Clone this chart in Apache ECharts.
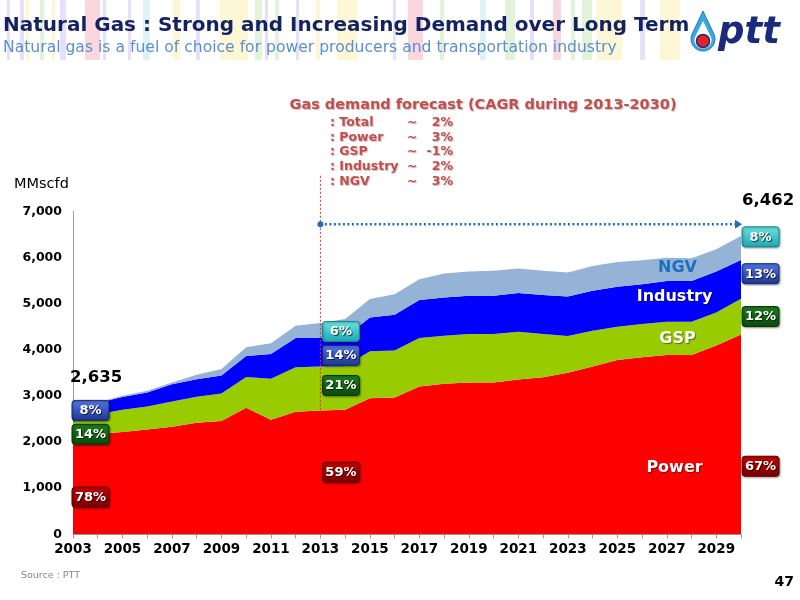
<!DOCTYPE html>
<html><head><meta charset="utf-8">
<script src="https://cdn.jsdelivr.net/npm/echarts@6/dist/echarts.min.js"></script>
<style>html,body{margin:0;padding:0;background:#fff}#c{width:800px;height:600px}</style>
</head><body><div id="c"></div>
<script>
const years = ['2003','2004','2005','2006','2007','2008','2009','2010','2011','2012','2013','2014','2015','2016','2017','2018','2019','2020','2021','2022','2023','2024','2025','2026','2027','2028','2029','2030'];
const power    = [2100,2180,2216,2270,2330,2420,2454,2743,2484,2657,2685,2700,2950,2965,3203,3261,3289,3289,3354,3404,3499,3635,3780,3836,3888,3888,4089,4330];
const gsp      = [340,420,484,500,550,560,596,667,885,963,950,942,1016,1016,1052,1044,1052,1052,1037,937,799,778,719,721,719,719,719,775];
const industry = [195,250,275,305,370,380,390,455,540,635,620,628,734,777,821,827,827,827,836,843,856,864,864,864,885,885,885,840];
const ngv      = [0,10,25,35,40,100,140,187,229,265,324,395,397,447,453,518,525,541,531,525,518,539,540,518,504,490,484,517];
const yTicks = [0,1000,2000,3000,4000,5000,6000,7000];
const startShares = ['8%','14%','78%'];      // Industry, GSP, Power in 2003
const midShares   = ['6%','14%','21%','59%']; // NGV, Industry, GSP, Power in 2013
const endShares   = ['8%','13%','12%','67%']; // NGV, Industry, GSP, Power in 2030
const startTotal = '2,635';
const endTotal = '6,462';
const cagrTitle = 'Gas demand forecast (CAGR during 2013-2030)';
const cagrNames = [': Total', ': Power', ': GSP', ': Industry', ': NGV'];
const cagrValues = ['2%', '3%', '-1%', '2%', '3%'];

const chart = echarts.init(document.getElementById('c'));
const FONT = "'DejaVu Sans', Verdana, sans-serif";

function areaSeries(name, data, color) {
  return {
    name, type: 'line', stack: 'total', data, symbol: 'none', smooth: false,
    lineStyle: { width: 0 }, areaStyle: { color, opacity: 1 }, itemStyle: { color },
    emphasis: { disabled: true }, silent: true
  };
}

chart.setOption({
  animation: false,
  backgroundColor: '#fff',
  grid: { left: 73, right: 59, top: 211.3, bottom: 65.7 },
  xAxis: {
    type: 'category', data: years, boundaryGap: false,
    axisLine: { lineStyle: { color: '#999' } },
    axisTick: { show: true, interval: 0, length: 4, lineStyle: { color: '#999' } },
    axisLabel: { interval: 1, color: '#000', fontFamily: FONT, fontWeight: 'bold', fontSize: 13.5, margin: 8 }
  },
  yAxis: {
    type: 'value', min: 0, max: 7000, interval: 1000,
    axisLine: { show: true, lineStyle: { color: '#999' } },
    axisTick: { show: false },
    splitLine: { show: false },
    axisLabel: {
      color: '#000', fontFamily: FONT, fontWeight: 'bold', fontSize: 12.5, margin: 11,
      formatter: v => yTicks.includes(v) ? v.toLocaleString('en-US') : ''
    }
  },
  series: [
    areaSeries('Power', power, '#ff0000'),
    areaSeries('GSP', gsp, '#99cc00'),
    areaSeries('Industry', industry, '#0000ff'),
    areaSeries('NGV', ngv, '#95b3d7')
  ]
});

function px(i, v) { return chart.convertToPixel({ xAxisIndex: 0, yAxisIndex: 0 }, [i, v]); }
const G = echarts.graphic;
function grad(a, b) { return new G.LinearGradient(0, 0, 0, 1, [{ offset: 0, color: a }, { offset: 1, color: b }]); }
const BOX = {
  cyan:  { f: grad('#6fe3e3', '#1aa7b0'), s: '#138a90' },
  blue:  { f: grad('#5577e6', '#1c3590'), s: '#152a75' },
  green: { f: grad('#1f7f1f', '#0a4a0a'), s: '#063806' },
  red:   { f: grad('#c80000', '#7a0000'), s: '#5a0000' }
};
const els = [];
// decorative header stripes
const L = '#e6e0fa', Y = '#fdf7d6', Gr = '#e3f3da', P = '#fad6df', C = '#ddf3f7';
[[7,3,L],[20,4,L],[26,3,Y],[40,4,Gr],[52,3,Y],[60,6,L],[85,15,P],[103,3,L],[128,3,L],[143,7,C],[173,7,Y],[196,4,L],[220,28,Y],[255,7,Gr],[265,3,L],[275,4,Gr],[296,3,L],[316,4,Y],[337,20,Y],[393,3,L],[408,15,P],[440,4,Gr],[480,6,C],[505,10,Gr],[530,4,L],[553,8,P],[571,4,Gr],[582,10,Gr],[597,25,Y],[640,5,L],[660,20,Y]]
  .forEach(s => els.push({ type: 'rect', silent: true, z: 0, shape: { x: s[0], y: 0, width: s[1], height: 60 }, style: { fill: s[2] } }));

function txt(x, y, text, font, fill, align, extra) {
  els.push({ type: 'text', silent: true, z: 20, style: Object.assign({ x, y, text, font, fill, align: align || 'left', verticalAlign: 'middle' }, extra || {}) });
}
function box(cx, cy, text, kind) {
  els.push({ type: 'rect', silent: true, z: 15, shape: { x: cx - 18.5, y: cy - 10, width: 37, height: 20, r: 3 },
    style: { fill: BOX[kind].f, stroke: BOX[kind].s, lineWidth: 1, shadowBlur: 2, shadowColor: 'rgba(0,0,0,0.35)', shadowOffsetX: 1, shadowOffsetY: 1 } });
  txt(cx, cy + 0.5, text, 'bold 13px ' + FONT, '#fff', 'center', { textShadowColor: 'rgba(0,0,0,0.7)', textShadowOffsetX: 1, textShadowOffsetY: 1, textShadowBlur: 1 });
}
function drop(cx, cy, r, tipY) {
  const d = cy - tipY, b = Math.acos(Math.min(1, r / d));
  const pts = [[cx, tipY]];
  const t0 = -Math.PI / 2 + b, t1 = 1.5 * Math.PI - b;
  for (let k = 0; k <= 40; k++) {
    const t = t0 + (t1 - t0) * k / 40;
    pts.push([cx + r * Math.cos(t), cy + r * Math.sin(t)]);
  }
  return pts;
}

// titles
txt(3, 26, 'Natural Gas : Strong and Increasing Demand over Long Term', 'bold 20px ' + FONT, '#14235f');
txt(3, 48, 'Natural gas is a fuel of choice for power producers and transportation industry', '15.6px ' + FONT, '#5b8fd0');
// logo
els.push({ type: 'polygon', silent: true, z: 20, shape: { points: drop(703, 39, 12, 11) }, style: { fill: '#33aae2', stroke: '#1b5fa8', lineWidth: 0.8 } });
els.push({ type: 'polygon', silent: true, z: 21, shape: { points: drop(703, 40, 8.5, 21) }, style: { fill: '#ffffff' } });
els.push({ type: 'circle', silent: true, z: 22, shape: { cx: 703, cy: 41, r: 6.5 }, style: { fill: '#e8202a', stroke: '#1b2a7a', lineWidth: 1.5 } });
txt(718, 33, 'ptt', 'italic bold 37px ' + FONT, '#1b2a7a');

// CAGR annotation
const annFill = '#c0504d';
const annShadow = { textShadowColor: 'rgba(90,30,30,0.3)', textShadowOffsetX: 1, textShadowOffsetY: 1, textShadowBlur: 1 };
txt(483, 105, cagrTitle, 'bold 14.5px ' + FONT, annFill, 'center', annShadow);
cagrNames.forEach((n, i) => {
  const y = 123 + i * 14.6;
  txt(330, y, n, 'bold 12.5px ' + FONT, annFill, 'left', annShadow);
  txt(412, y, '~', 'bold 12.5px ' + FONT, annFill, 'center', annShadow);
  txt(453, y, cagrValues[i], 'bold 12.5px ' + FONT, annFill, 'right', annShadow);
});

// unit, source, page
txt(14, 184, 'MMscfd', '14.5px ' + FONT, '#000');
txt(21, 576, 'Source : PTT', '9.5px ' + FONT, '#888');
txt(794, 582, '47', 'bold 14px ' + FONT, '#000', 'right');

// forecast divider and arrow
const last = years.length - 1;
const i13 = years.indexOf('2013');
const pTop = px(i13, 7770), pBot = px(i13, power[i13]);
els.push({ type: 'line', silent: true, z: 12, shape: { x1: pTop[0], y1: pTop[1], x2: pBot[0], y2: pBot[1] }, style: { stroke: '#ff2020', lineWidth: 1, lineDash: [2, 2] } });
const a0 = px(i13, 6720), a1 = px(last, 6720);
els.push({ type: 'line', silent: true, z: 12, shape: { x1: a0[0], y1: a0[1], x2: a1[0] - 4, y2: a1[1] }, style: { stroke: '#1f6fc0', lineWidth: 2.5, lineDash: [2, 2.5] } });
els.push({ type: 'circle', silent: true, z: 13, shape: { cx: a0[0], cy: a0[1], r: 3 }, style: { fill: '#1f6fc0' } });
els.push({ type: 'polygon', silent: true, z: 13, shape: { points: [[a1[0] - 6, a1[1] - 4.5], [a1[0] + 1, a1[1]], [a1[0] - 6, a1[1] + 4.5]] }, style: { fill: '#1f6fc0' } });

// totals
const t0 = px(0, 3400), t1 = px(last, 7225);
txt(t0[0] - 3, t0[1], startTotal, 'bold 16.5px ' + FONT, '#000', 'left', { textShadowColor: 'rgba(0,0,0,0.25)', textShadowOffsetX: 1, textShadowOffsetY: 1 });
txt(t1[0] + 1, t1[1], endTotal, 'bold 16.5px ' + FONT, '#000', 'left', { textShadowColor: 'rgba(0,0,0,0.25)', textShadowOffsetX: 1, textShadowOffsetY: 1 });

// share boxes
const sv = [2685, 2166, 805];
['blue', 'green', 'red'].forEach((k, i) => { const p = px(0, sv[i]); box(p[0] + 17.5, p[1], startShares[i], k); });
const mv = [4395, 3877, 3225, 1346];
['cyan', 'blue', 'green', 'red'].forEach((k, i) => { const p = px(i13, mv[i]); box(p[0] + 20.5, p[1], midShares[i], k); });
const ev = [6447, 5648, 4719, 1475];
['cyan', 'blue', 'green', 'red'].forEach((k, i) => { const p = px(last, ev[i]); box(p[0] + 19.5, p[1], endShares[i], k); });

// series names inside areas
const nameShadow = { textShadowColor: 'rgba(0,0,0,0.45)', textShadowOffsetX: 1, textShadowOffsetY: 1, textShadowBlur: 1 };
const iName = years.indexOf('2028');
const nx = px(iName, 0)[0] - 14;
txt(nx, px(iName, 5780)[1], 'NGV', 'bold 16px ' + FONT, '#1f6fc0', 'center', { textShadowColor: 'rgba(0,0,0,0.25)', textShadowOffsetX: 1, textShadowOffsetY: 1 });
txt(nx - 3, px(iName, 5150)[1], 'Industry', 'bold 16px ' + FONT, '#fff', 'center', nameShadow);
txt(nx, px(iName, 4240)[1], 'GSP', 'bold 16px ' + FONT, '#fff', 'center', nameShadow);
txt(nx - 3, px(iName, 1430)[1], 'Power', 'bold 16px ' + FONT, '#fff', 'center', nameShadow);

chart.setOption({ graphic: { elements: els } });
</script></body></html>
